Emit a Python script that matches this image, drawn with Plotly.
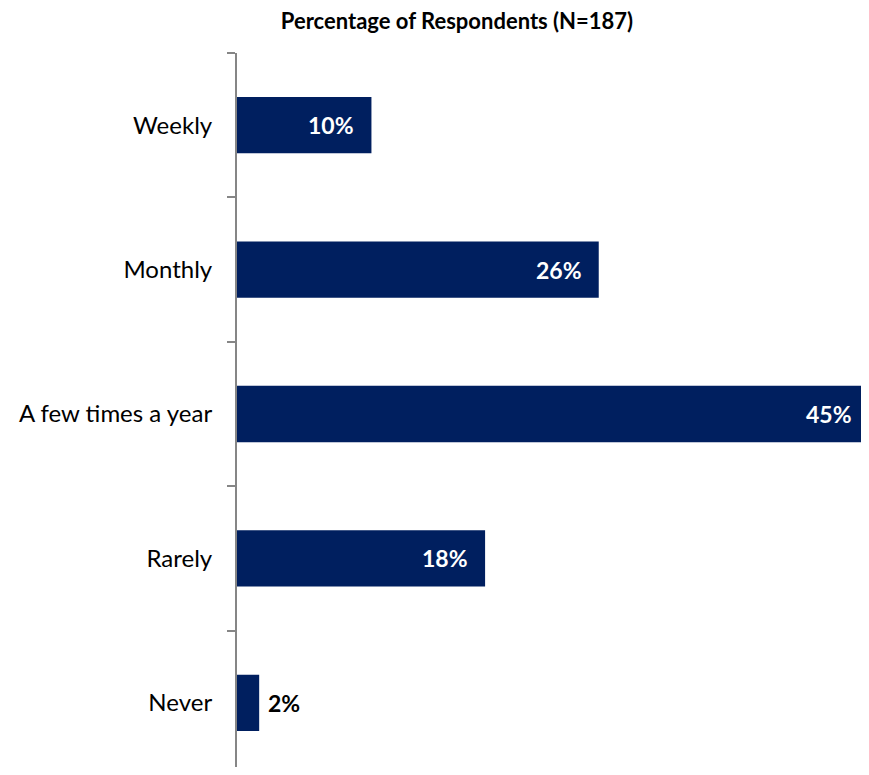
import plotly.graph_objects as go

categories = ["Weekly", "Monthly", "A few times a year", "Rarely", "Never"]
values = [9.7, 26.1, 45.6, 17.9, 1.6]
labels = ["10%", "26%", "45%", "18%", "2%"]

NAVY = "#001F5F"
FONT = "Lato"

# page body has an 8px margin; keep the page short enough to avoid a scrollbar
W, H = 861, 759
TOP = 45
ROW_PX = 144.4  # height of one category band in the reference

fig = go.Figure()
fig.add_trace(go.Bar(
    y=categories,
    x=values,
    orientation="h",
    marker=dict(color=NAVY, line=dict(width=0)),
    hoverinfo="skip",
))

# value labels: white inside the bar, black outside for the tiny one
for cat, val, lab in zip(categories, values, labels):
    inside = val > 5
    fig.add_annotation(
        x=val, y=cat,
        text="<b>%s</b>" % lab,
        showarrow=False,
        xanchor="right" if inside else "left",
        xshift=-15 if inside else 7,
        font=dict(family=FONT, size=23, color="white" if inside else "black"),
    )

fig.update_layout(
    width=W, height=H,
    margin=dict(l=229, r=0, t=TOP, b=0),
    paper_bgcolor="white",
    plot_bgcolor="white",
    bargap=0.61,
    showlegend=False,
    font=dict(family=FONT, size=24, color="black"),
    title=dict(
        text="<b>Percentage of Respondents (N=187)</b>",
        x=449 / W, xanchor="center",
        y=1 - 13 / H, yanchor="middle",
        font=dict(family=FONT, size=22, color="black"),
    ),
)
fig.update_xaxes(
    range=[0, 45.6],
    visible=False,
    showgrid=False,
    zeroline=False,
)
plot_h = H - TOP
y_bottom = -0.5 + plot_h / ROW_PX
fig.update_yaxes(
    range=[y_bottom, -0.5],
    showline=True,
    linecolor="#868686",
    linewidth=2,
    ticks="outside",
    ticklen=8,
    tickcolor="#868686",
    tickwidth=2,
    tickson="boundaries",
    showgrid=False,
    ticklabelstandoff=18,
)

fig.write_html("out.html")
